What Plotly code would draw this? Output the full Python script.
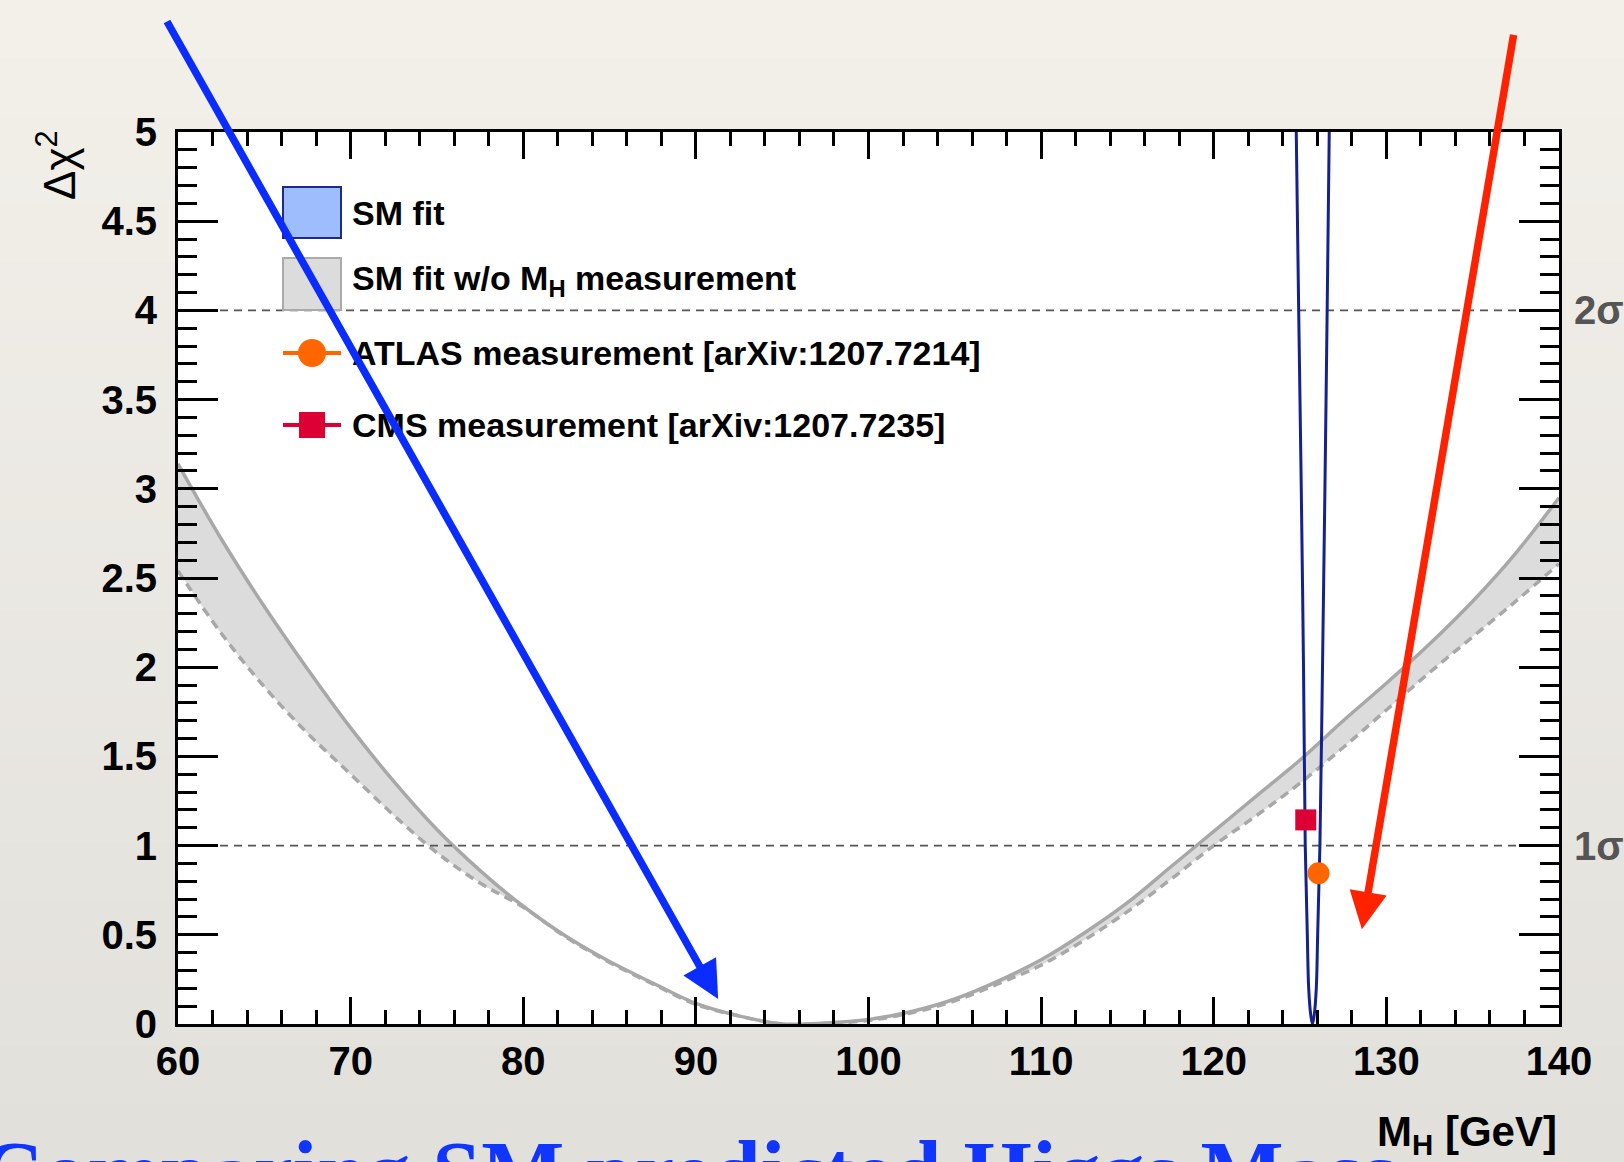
import plotly.graph_objects as go

# ---- data -------------------------------------------------------------
# Delta chi^2 scan of the SM fit without the M_H measurement:
# upper edge (solid) and lower edge (dashed) of the grey band
band_mh = [60, 62.5, 65, 67.5, 70, 72.5, 75, 77.5, 80, 82.5, 85, 87.5, 90, 92.5,
           95, 97.5, 100, 102.5, 105, 107.5, 110, 112.5, 115, 117.5, 120, 122.5,
           125, 127.5, 130, 132.5, 135, 137.5, 140]
band_upper = [3.14, 2.72, 2.34, 1.99, 1.66, 1.36, 1.09, 0.86, 0.66, 0.49, 0.35, 0.23,
              0.115, 0.045, 0.0, 0.005, 0.025, 0.07, 0.14, 0.24, 0.36, 0.51, 0.68,
              0.88, 1.08, 1.28, 1.48, 1.70, 1.91, 2.13, 2.37, 2.64, 2.95]
band_lower = [2.54, 2.19, 1.89, 1.63, 1.40, 1.17, 0.96, 0.79, 0.655, 0.485, 0.345,
              0.225, 0.11, 0.045, 0.0, 0.003, 0.02, 0.063, 0.13, 0.225, 0.33, 0.47,
              0.63, 0.81, 1.0, 1.17, 1.35, 1.55, 1.76, 1.97, 2.17, 2.37, 2.58]

# Delta chi^2 scan of the full SM fit (narrow parabola)
smfit_mh = [124.78, 124.92, 125.07, 125.20, 125.30, 125.42, 125.50, 125.62, 125.72,
            125.82, 125.94, 126.02, 126.15, 126.30, 126.44, 126.57, 126.69]
smfit_dchi2 = [5.0, 4.0, 3.0, 2.0, 1.0, 0.5, 0.2, 0.05, 0.0,
               0.05, 0.2, 0.5, 1.0, 2.0, 3.0, 4.0, 5.0]

# direct measurements
atlas_mh, atlas_dchi2 = [126.07], [0.845]
cms_mh, cms_dchi2 = [125.33], [1.144]

# 1 sigma / 2 sigma reference levels
sigma_levels = [1, 4]
sigma_labels = ["1σ", "2σ"]

x_range = [60, 140]
y_range = [0, 5]
x_major = [60, 70, 80, 90, 100, 110, 120, 130, 140]

legend_labels = ["SM fit",
                 "SM fit w/o M<sub>H</sub> measurement",
                 "ATLAS measurement [arXiv:1207.7214]",
                 "CMS measurement [arXiv:1207.7235]"]

# ---- geometry helpers (figure pixels -> paper coordinates) -------------
W, H = 1624, 1162
L, R, T, B = 178, 1559, 132, 1024          # plot frame in pixels


def px(xp):
    return (xp - L) / (R - L)


def py(yp):
    return (B - yp) / (B - T)


SANS = "Liberation Sans"
SERIF = "Liberation Serif"

fig = go.Figure()

# grey band: solid upper edge, dashed lower edge filled to it
fig.add_trace(go.Scatter(x=band_mh, y=band_upper, mode="lines",
                         line=dict(color="#a8a8a8", width=3.5, shape="spline"),
                         showlegend=False, hoverinfo="skip"))
fig.add_trace(go.Scatter(x=band_mh, y=band_lower, mode="lines",
                         line=dict(color="#a8a8a8", width=3.5, dash="9px,6px",
                                   shape="spline"),
                         fill="tonexty", fillcolor="#dcdcdc",
                         showlegend=False, hoverinfo="skip"))

# dashed reference levels
for lvl in sigma_levels:
    fig.add_trace(go.Scatter(x=x_range, y=[lvl, lvl], mode="lines",
                             line=dict(color="#555555", width=1.8, dash="8px,6px"),
                             showlegend=False, hoverinfo="skip"))

# full SM fit
fig.add_trace(go.Scatter(x=smfit_mh, y=smfit_dchi2, mode="lines",
                         line=dict(color="#15218f", width=3, shape="spline"),
                         showlegend=False, hoverinfo="skip"))

# measurements
fig.add_trace(go.Scatter(x=cms_mh, y=cms_dchi2, mode="markers",
                         marker=dict(symbol="square", size=21, color="#dc0035"),
                         showlegend=False, hoverinfo="skip"))
fig.add_trace(go.Scatter(x=atlas_mh, y=atlas_dchi2, mode="markers",
                         marker=dict(symbol="circle", size=22, color="#ff6600"),
                         showlegend=False, hoverinfo="skip"))

# ---- background (paper texture tone, slightly darker toward bottom) ----
shapes = []
n_bands = 40
top_c = (243, 240, 234)
bot_c = (226, 224, 219)
for i in range(n_bands):
    f = i / (n_bands - 1)
    c = tuple(round(top_c[k] + (bot_c[k] - top_c[k]) * f) for k in range(3))
    y0 = H * i / n_bands
    y1 = H * (i + 1) / n_bands + 1
    shapes.append(dict(type="rect", xref="paper", yref="paper", layer="below",
                       x0=px(0), x1=px(W), y0=py(y1), y1=py(y0),
                       fillcolor="rgb(%d,%d,%d)" % c, line=dict(width=0)))
shapes.append(dict(type="rect", xref="paper", yref="paper", layer="below",
                   x0=0, x1=1, y0=0, y1=1, fillcolor="white", line=dict(width=0)))

# ---- legend ------------------------------------------------------------
lx0, lx1 = 283, 341
shapes.append(dict(type="rect", xref="paper", yref="paper",
                   x0=px(lx0), x1=px(lx1), y0=py(238), y1=py(187),
                   fillcolor="#9ebdfc", line=dict(color="#1b2a8f", width=2)))
shapes.append(dict(type="rect", xref="paper", yref="paper",
                   x0=px(lx0), x1=px(lx1), y0=py(310), y1=py(258),
                   fillcolor="#dcdcdc", line=dict(color="#aaaaaa", width=2)))
for yc, col in [(353, "#ff6600"), (425, "#dc0035")]:
    shapes.append(dict(type="line", xref="paper", yref="paper",
                       x0=px(lx0), x1=px(lx1), y0=py(yc), y1=py(yc),
                       line=dict(color=col, width=4)))
shapes.append(dict(type="circle", xref="paper", yref="paper",
                   x0=px(312 - 14), x1=px(312 + 14), y0=py(353 + 14), y1=py(353 - 14),
                   fillcolor="#ff6600", line=dict(width=0)))
shapes.append(dict(type="rect", xref="paper", yref="paper",
                   x0=px(312 - 13), x1=px(312 + 13), y0=py(425 + 13), y1=py(425 - 13),
                   fillcolor="#dc0035", line=dict(width=0)))

annotations = []
for lbl, yc in zip(legend_labels, [213, 280, 353, 425]):
    annotations.append(dict(text=lbl, xref="paper", yref="paper", x=px(350), y=py(yc),
                            xanchor="left", yanchor="middle", showarrow=False,
                            font=dict(family=SANS, size=34, color="black",
                                      weight="bold")))

# sigma labels on the right
for lvl, lbl in zip(sigma_levels, sigma_labels):
    annotations.append(dict(text=lbl, xref="paper", yref="y", x=px(1572), y=lvl,
                            xanchor="left", yanchor="middle", showarrow=False,
                            font=dict(family=SANS, size=40, color="#555555",
                                      weight="bold")))

# axis titles
annotations.append(dict(text="Δχ<sup>2</sup>", xref="paper", yref="paper",
                        x=px(56), y=py(128), xanchor="center", yanchor="top",
                        textangle=-90, showarrow=False,
                        font=dict(family=SANS, size=44, color="black")))
annotations.append(dict(text="M<sub>H</sub> [GeV]", xref="paper", yref="paper",
                        x=1.0, y=py(1106), xanchor="right", yanchor="top",
                        showarrow=False,
                        font=dict(family=SANS, size=42, color="black", weight="bold")))

# slide headline and callout text
annotations.append(dict(text="Comparing SM predicted Higgs Mass", xref="paper",
                        yref="paper", x=px(-22), y=py(1122), xanchor="left",
                        yanchor="top", showarrow=False,
                        font=dict(family=SERIF, size=88, color="#1035ff",
                                  weight="bold")))
annotations.append(dict(text="Measured", xref="paper", yref="paper",
                        x=px(1190), y=py(9), xanchor="left", yanchor="bottom",
                        showarrow=False,
                        font=dict(family=SANS, size=40, color="#ff3a1a")))

# callout arrows
annotations.append(dict(text="", x=91.29, y=0.14, xref="x", yref="y",
                        ax=166 - 718, ay=20 - 999, axref="pixel", ayref="pixel",
                        showarrow=True, arrowhead=2, arrowsize=1, arrowwidth=7.5,
                        arrowcolor="#0a2cff", standoff=0))
annotations.append(dict(text="", x=128.58, y=0.531, xref="x", yref="y",
                        ax=1514 - 1362, ay=33 - 929, axref="pixel", ayref="pixel",
                        showarrow=True, arrowhead=2, arrowsize=1, arrowwidth=7.5,
                        arrowcolor="#ff2200", standoff=0))

tick_font = dict(family=SANS, size=40, color="black", weight="bold")

fig.update_layout(
    width=W, height=H,
    margin=dict(l=L, r=W - R, t=T, b=H - B, pad=0),
    paper_bgcolor="rgb(235,232,227)",
    plot_bgcolor="white",
    shapes=shapes,
    annotations=annotations,
    showlegend=False,
    xaxis=dict(range=x_range, tickvals=x_major, ticks="inside", ticklen=27,
               tickwidth=2.5, tickcolor="black", showline=True, linewidth=3,
               linecolor="black", mirror="ticks", showgrid=False, zeroline=False,
               tickfont=tick_font, ticklabelstandoff=0,
               minor=dict(dtick=2, ticks="inside", ticklen=14, tickwidth=2.5,
                          tickcolor="black", showgrid=False)),
    yaxis=dict(range=y_range, dtick=0.5, tick0=0, ticks="inside", ticklen=40,
               tickwidth=2.5, tickcolor="black", showline=True, linewidth=3,
               linecolor="black", mirror="ticks", showgrid=False, zeroline=False,
               tickfont=tick_font, ticklabelstandoff=10,
               minor=dict(dtick=0.1, ticks="inside", ticklen=19, tickwidth=2.5,
                          tickcolor="black", showgrid=False)),
)

fig.write_html("out.html", config={"displayModeBar": False})
